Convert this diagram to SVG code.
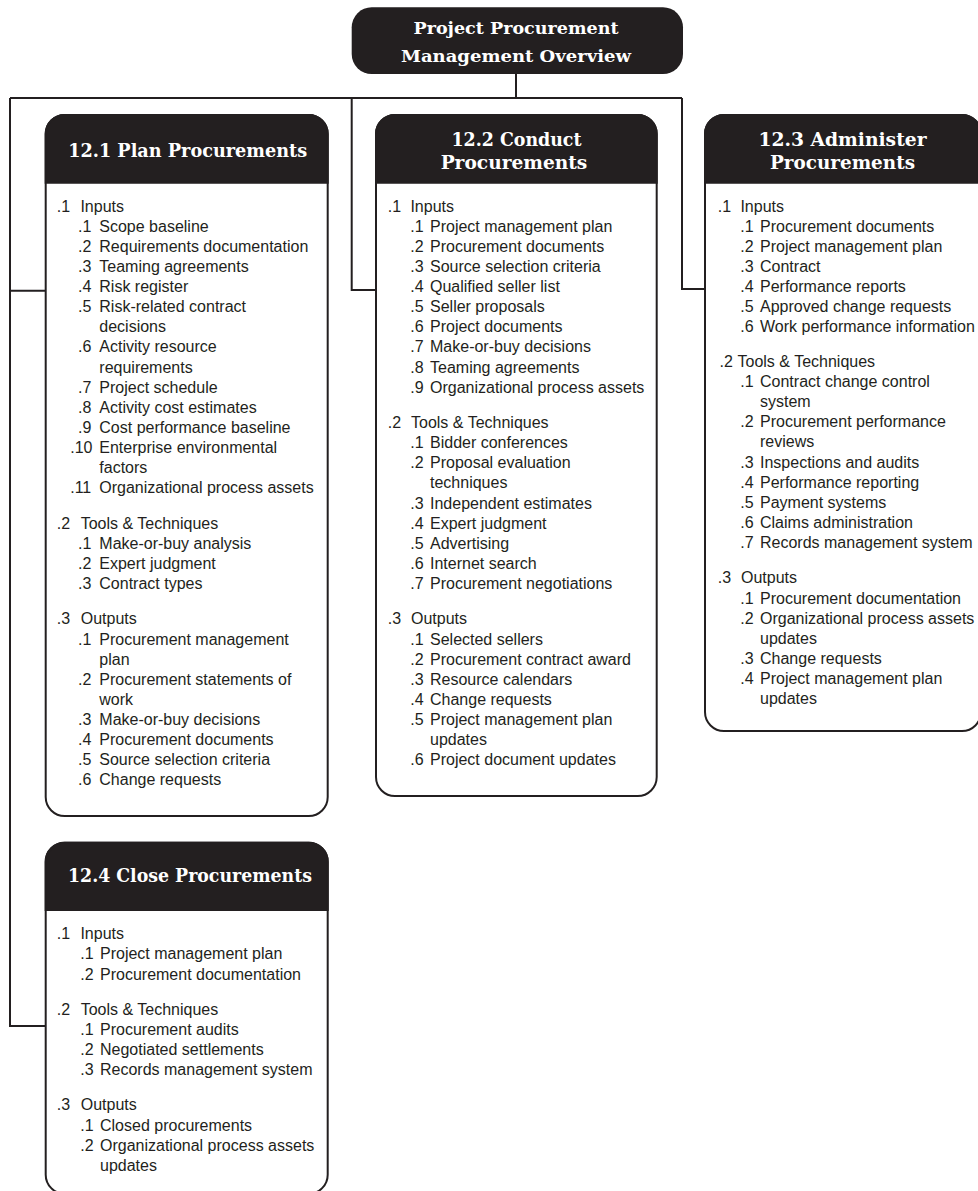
<svg xmlns="http://www.w3.org/2000/svg" width="978" height="1191" viewBox="0 0 978 1191">
<style>
.bg{fill:#ffffff}
.box{fill:#ffffff;stroke:#231f20;stroke-width:2}
.hdr{fill:#231f20;stroke:#231f20;stroke-width:2}
.conn{fill:none;stroke:#231f20;stroke-width:2}
.h{font-family:"DejaVu Serif","Liberation Serif",serif;font-weight:bold;font-size:19px;fill:#ffffff;text-anchor:middle}
.ttl{font-family:"DejaVu Serif","Liberation Serif",serif;font-weight:bold;font-size:16px;fill:#ffffff;text-anchor:middle}
.t{font-family:"Liberation Sans",Arial,sans-serif;font-size:16px;fill:#231f20}
</style>
<rect class="bg" x="0" y="0" width="978" height="1191"/>

<g id="connectors">
<path class="conn" d="M516,74 V98 M10,98 H682 M10,98 V1026 H45.7 M10,290.7 H45.7 M351.7,98 V290 H376 M682,98 V289 H705"/>
</g>

<g id="title">
<rect x="351.7" y="7.3" width="331.3" height="66.7" rx="20" fill="#231f20"/>
<text class="ttl" x="516" y="34.3" textLength="205" lengthAdjust="spacingAndGlyphs">Project Procurement</text>
<text class="ttl" x="516" y="62" textLength="230" lengthAdjust="spacingAndGlyphs">Management Overview</text>
</g>

<g id="node-12-1">
<rect class="box" x="45.7" y="115" width="282" height="701" rx="19"/>
<path class="hdr" d="M45.7,134 A19,19 0 0 1 64.7,115 H308.7 A19,19 0 0 1 327.7,134 V182.7 H45.7 Z"/>
<text class="h" x="187.7" y="157" textLength="239" lengthAdjust="spacingAndGlyphs">12.1 Plan Procurements</text>
<text class="t" y="211.7"><tspan x="56.8">.1</tspan><tspan x="80.4">Inputs</tspan></text>
<text class="t" y="231.8"><tspan x="78">.1</tspan><tspan x="99.3">Scope baseline</tspan></text>
<text class="t" y="251.9"><tspan x="78">.2</tspan><tspan x="99.3">Requirements documentation</tspan></text>
<text class="t" y="272"><tspan x="78">.3</tspan><tspan x="99.3">Teaming agreements</tspan></text>
<text class="t" y="292.1"><tspan x="78">.4</tspan><tspan x="99.3">Risk register</tspan></text>
<text class="t" y="312.2"><tspan x="78">.5</tspan><tspan x="99.3">Risk-related contract</tspan></text>
<text class="t" x="99.3" y="332.3">decisions</text>
<text class="t" y="352.4"><tspan x="78">.6</tspan><tspan x="99.3">Activity resource</tspan></text>
<text class="t" x="99.3" y="372.5">requirements</text>
<text class="t" y="392.6"><tspan x="78">.7</tspan><tspan x="99.3">Project schedule</tspan></text>
<text class="t" y="412.7"><tspan x="78">.8</tspan><tspan x="99.3">Activity cost estimates</tspan></text>
<text class="t" y="432.8"><tspan x="78">.9</tspan><tspan x="99.3">Cost performance baseline</tspan></text>
<text class="t" y="452.9"><tspan x="70.2">.10</tspan><tspan x="99.3">Enterprise environmental</tspan></text>
<text class="t" x="99.3" y="473">factors</text>
<text class="t" y="493.1"><tspan x="70.2">.11</tspan><tspan x="99.3">Organizational process assets</tspan></text>
<text class="t" y="528.6"><tspan x="56.8">.2</tspan><tspan x="80.7">Tools &amp; Techniques</tspan></text>
<text class="t" y="548.7"><tspan x="78">.1</tspan><tspan x="99.3">Make-or-buy analysis</tspan></text>
<text class="t" y="568.8"><tspan x="78">.2</tspan><tspan x="99.3">Expert judgment</tspan></text>
<text class="t" y="588.9"><tspan x="78">.3</tspan><tspan x="99.3">Contract types</tspan></text>
<text class="t" y="624.4"><tspan x="56.8">.3</tspan><tspan x="80.7">Outputs</tspan></text>
<text class="t" y="644.5"><tspan x="78">.1</tspan><tspan x="99.3">Procurement management</tspan></text>
<text class="t" x="99.3" y="664.6">plan</text>
<text class="t" y="684.7"><tspan x="78">.2</tspan><tspan x="99.3">Procurement statements of</tspan></text>
<text class="t" x="99.3" y="704.8">work</text>
<text class="t" y="724.9"><tspan x="78">.3</tspan><tspan x="99.3">Make-or-buy decisions</tspan></text>
<text class="t" y="745"><tspan x="78">.4</tspan><tspan x="99.3">Procurement documents</tspan></text>
<text class="t" y="765.1"><tspan x="78">.5</tspan><tspan x="99.3">Source selection criteria</tspan></text>
<text class="t" y="785.2"><tspan x="78">.6</tspan><tspan x="99.3">Change requests</tspan></text>
</g>

<g id="node-12-2">
<rect class="box" x="376" y="115" width="280.7" height="681" rx="19"/>
<path class="hdr" d="M376,134 A19,19 0 0 1 395,115 H637.7 A19,19 0 0 1 656.7,134 V182.7 H376 Z"/>
<text class="h" x="516.5" y="145.5" textLength="130" lengthAdjust="spacingAndGlyphs">12.2 Conduct</text>
<text class="h" x="514" y="168.5" textLength="146.7" lengthAdjust="spacingAndGlyphs">Procurements</text>
<text class="t" y="211.7"><tspan x="387.8">.1</tspan><tspan x="410.4">Inputs</tspan></text>
<text class="t" y="231.8"><tspan x="410.2">.1</tspan><tspan x="430">Project management plan</tspan></text>
<text class="t" y="251.9"><tspan x="410.2">.2</tspan><tspan x="430">Procurement documents</tspan></text>
<text class="t" y="272"><tspan x="410.2">.3</tspan><tspan x="430">Source selection criteria</tspan></text>
<text class="t" y="292.1"><tspan x="410.2">.4</tspan><tspan x="430">Qualified seller list</tspan></text>
<text class="t" y="312.2"><tspan x="410.2">.5</tspan><tspan x="430">Seller proposals</tspan></text>
<text class="t" y="332.3"><tspan x="410.2">.6</tspan><tspan x="430">Project documents</tspan></text>
<text class="t" y="352.4"><tspan x="410.2">.7</tspan><tspan x="430">Make-or-buy decisions</tspan></text>
<text class="t" y="372.5"><tspan x="410.2">.8</tspan><tspan x="430">Teaming agreements</tspan></text>
<text class="t" y="392.6"><tspan x="410.2">.9</tspan><tspan x="430">Organizational process assets</tspan></text>
<text class="t" y="428.1"><tspan x="387.8">.2</tspan><tspan x="411">Tools &amp; Techniques</tspan></text>
<text class="t" y="448.2"><tspan x="410.2">.1</tspan><tspan x="430">Bidder conferences</tspan></text>
<text class="t" y="468.3"><tspan x="410.2">.2</tspan><tspan x="430">Proposal evaluation</tspan></text>
<text class="t" x="430" y="488.4">techniques</text>
<text class="t" y="508.5"><tspan x="410.2">.3</tspan><tspan x="430">Independent estimates</tspan></text>
<text class="t" y="528.6"><tspan x="410.2">.4</tspan><tspan x="430">Expert judgment</tspan></text>
<text class="t" y="548.7"><tspan x="410.2">.5</tspan><tspan x="430">Advertising</tspan></text>
<text class="t" y="568.8"><tspan x="410.2">.6</tspan><tspan x="430">Internet search</tspan></text>
<text class="t" y="588.9"><tspan x="410.2">.7</tspan><tspan x="430">Procurement negotiations</tspan></text>
<text class="t" y="624.4"><tspan x="387.8">.3</tspan><tspan x="411">Outputs</tspan></text>
<text class="t" y="644.5"><tspan x="410.2">.1</tspan><tspan x="430">Selected sellers</tspan></text>
<text class="t" y="664.6"><tspan x="410.2">.2</tspan><tspan x="430">Procurement contract award</tspan></text>
<text class="t" y="684.7"><tspan x="410.2">.3</tspan><tspan x="430">Resource calendars</tspan></text>
<text class="t" y="704.8"><tspan x="410.2">.4</tspan><tspan x="430">Change requests</tspan></text>
<text class="t" y="724.9"><tspan x="410.2">.5</tspan><tspan x="430">Project management plan</tspan></text>
<text class="t" x="430" y="745">updates</text>
<text class="t" y="765.1"><tspan x="410.2">.6</tspan><tspan x="430">Project document updates</tspan></text>
</g>

<g id="node-12-3">
<rect class="box" x="705" y="115" width="276" height="616" rx="19"/>
<path class="hdr" d="M705,134 A19,19 0 0 1 724,115 H962 A19,19 0 0 1 981,134 V182.7 H705 Z"/>
<text class="h" x="842.5" y="145.5" textLength="168" lengthAdjust="spacingAndGlyphs">12.3 Administer</text>
<text class="h" x="842.5" y="168.5" textLength="145" lengthAdjust="spacingAndGlyphs">Procurements</text>
<text class="t" y="211.7"><tspan x="717.8">.1</tspan><tspan x="740.4">Inputs</tspan></text>
<text class="t" y="231.8"><tspan x="740.2">.1</tspan><tspan x="760">Procurement documents</tspan></text>
<text class="t" y="251.9"><tspan x="740.2">.2</tspan><tspan x="760">Project management plan</tspan></text>
<text class="t" y="272"><tspan x="740.2">.3</tspan><tspan x="760">Contract</tspan></text>
<text class="t" y="292.1"><tspan x="740.2">.4</tspan><tspan x="760">Performance reports</tspan></text>
<text class="t" y="312.2"><tspan x="740.2">.5</tspan><tspan x="760">Approved change requests</tspan></text>
<text class="t" y="332.3"><tspan x="740.2">.6</tspan><tspan x="760">Work performance information</tspan></text>
<text class="t" y="367"><tspan x="719.5">.2</tspan><tspan x="737.5">Tools &amp; Techniques</tspan></text>
<text class="t" y="387.1"><tspan x="740.2">.1</tspan><tspan x="760">Contract change control</tspan></text>
<text class="t" x="760" y="407.2">system</text>
<text class="t" y="427.3"><tspan x="740.2">.2</tspan><tspan x="760">Procurement performance</tspan></text>
<text class="t" x="760" y="447.4">reviews</text>
<text class="t" y="467.5"><tspan x="740.2">.3</tspan><tspan x="760">Inspections and audits</tspan></text>
<text class="t" y="487.6"><tspan x="740.2">.4</tspan><tspan x="760">Performance reporting</tspan></text>
<text class="t" y="507.7"><tspan x="740.2">.5</tspan><tspan x="760">Payment systems</tspan></text>
<text class="t" y="527.8"><tspan x="740.2">.6</tspan><tspan x="760">Claims administration</tspan></text>
<text class="t" y="547.9"><tspan x="740.2">.7</tspan><tspan x="760">Records management system</tspan></text>
<text class="t" y="583.4"><tspan x="717.8">.3</tspan><tspan x="741">Outputs</tspan></text>
<text class="t" y="603.5"><tspan x="740.2">.1</tspan><tspan x="760">Procurement documentation</tspan></text>
<text class="t" y="623.6"><tspan x="740.2">.2</tspan><tspan x="760">Organizational process assets</tspan></text>
<text class="t" x="760" y="643.7">updates</text>
<text class="t" y="663.8"><tspan x="740.2">.3</tspan><tspan x="760">Change requests</tspan></text>
<text class="t" y="683.9"><tspan x="740.2">.4</tspan><tspan x="760">Project management plan</tspan></text>
<text class="t" x="760" y="704">updates</text>
</g>

<g id="node-12-4">
<rect class="box" x="45.7" y="842.7" width="282" height="351" rx="19"/>
<path class="hdr" d="M45.7,861.7 A19,19 0 0 1 64.7,842.7 H308.7 A19,19 0 0 1 327.7,861.7 V910 H45.7 Z"/>
<text class="h" x="190" y="882" textLength="244" lengthAdjust="spacingAndGlyphs">12.4 Close Procurements</text>
<text class="t" y="939.3"><tspan x="56.8">.1</tspan><tspan x="80.4">Inputs</tspan></text>
<text class="t" y="959.4"><tspan x="80.2">.1</tspan><tspan x="100">Project management plan</tspan></text>
<text class="t" y="979.5"><tspan x="80.2">.2</tspan><tspan x="100">Procurement documentation</tspan></text>
<text class="t" y="1014.8"><tspan x="56.8">.2</tspan><tspan x="80.7">Tools &amp; Techniques</tspan></text>
<text class="t" y="1034.9"><tspan x="80.2">.1</tspan><tspan x="100">Procurement audits</tspan></text>
<text class="t" y="1055"><tspan x="80.2">.2</tspan><tspan x="100">Negotiated settlements</tspan></text>
<text class="t" y="1075.1"><tspan x="80.2">.3</tspan><tspan x="100">Records management system</tspan></text>
<text class="t" y="1110.4"><tspan x="56.8">.3</tspan><tspan x="80.7">Outputs</tspan></text>
<text class="t" y="1130.5"><tspan x="80.2">.1</tspan><tspan x="100">Closed procurements</tspan></text>
<text class="t" y="1150.6"><tspan x="80.2">.2</tspan><tspan x="100">Organizational process assets</tspan></text>
<text class="t" x="100" y="1170.7">updates</text>
</g>
</svg>
